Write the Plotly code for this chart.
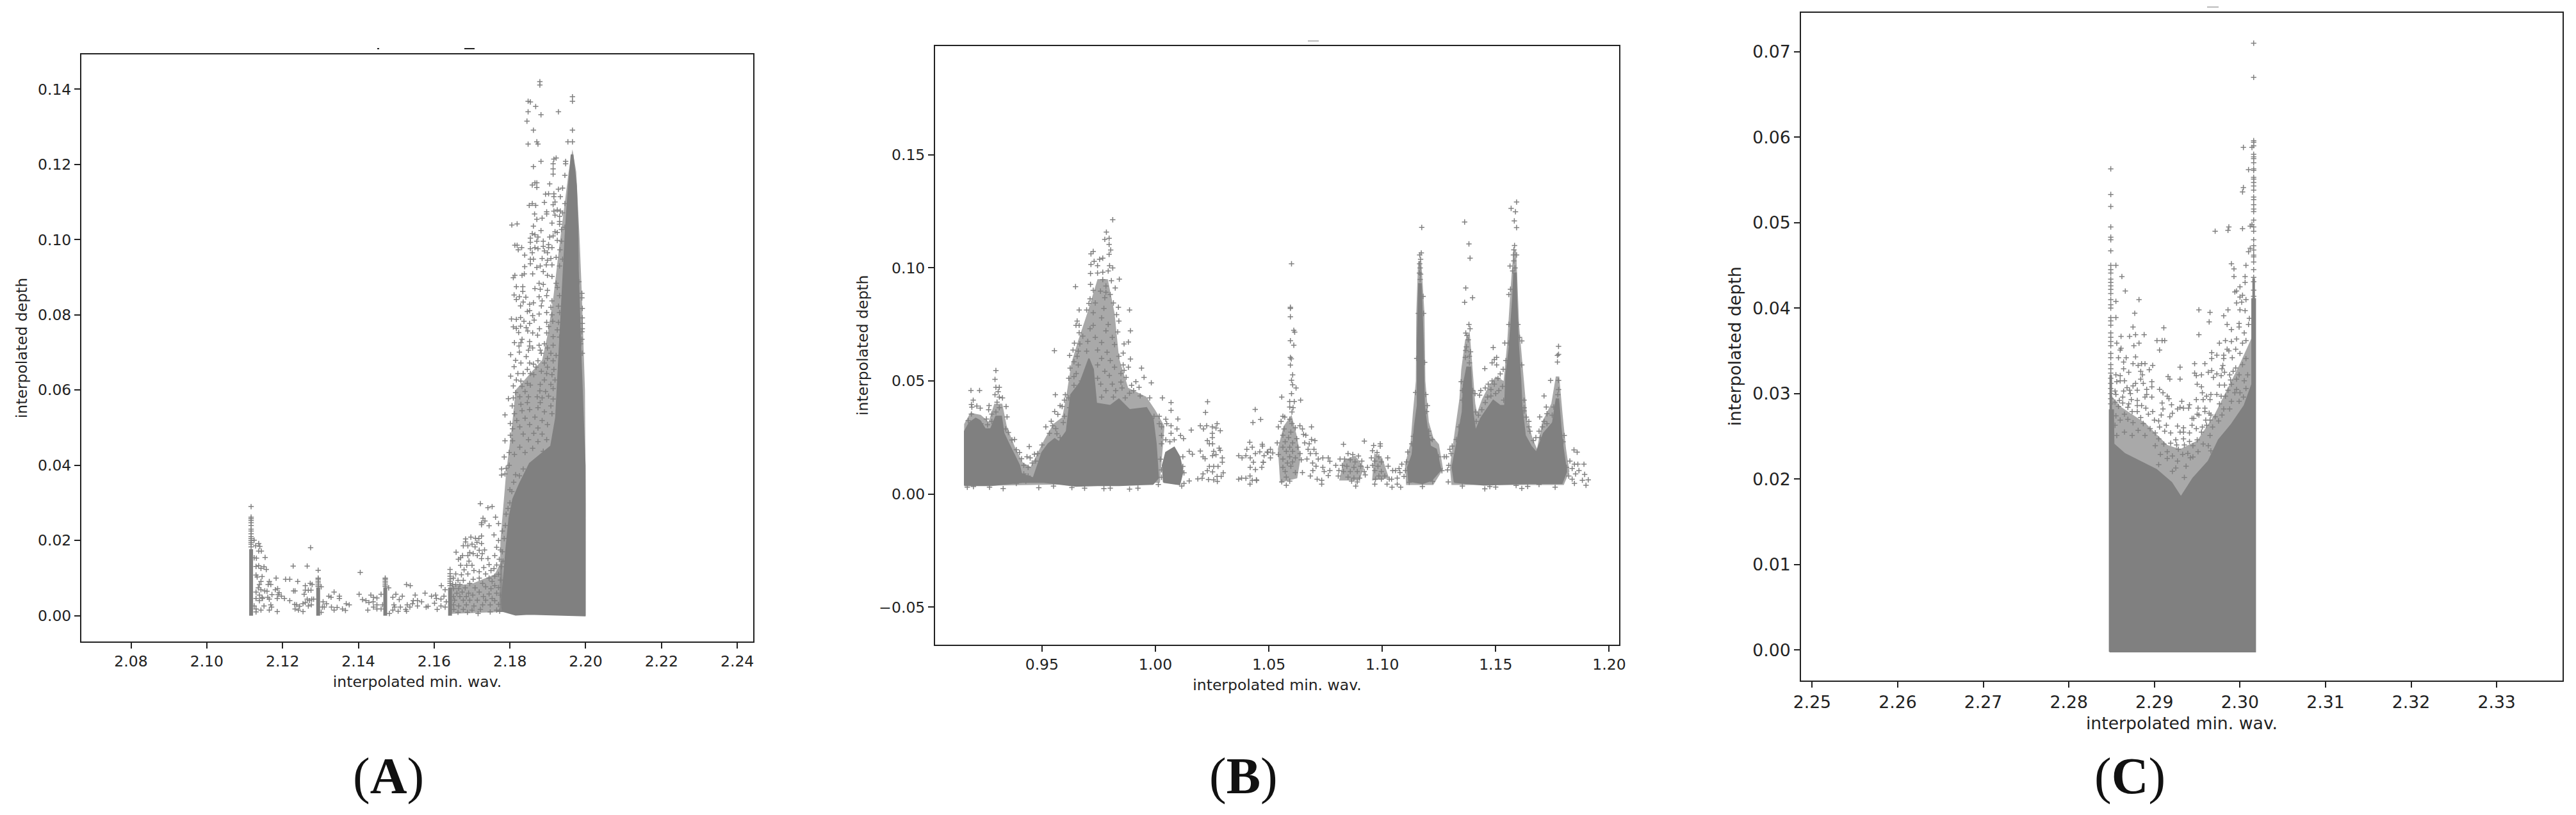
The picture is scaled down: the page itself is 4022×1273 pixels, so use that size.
"""Three depth vs. minimum-wavelength scatter panels (A, B, C).

The solid part of each cloud is a filled outline, with a lighter fringe outline
behind it. The loose points around them are read one by one off the picture.
"""

import plotly.graph_objects as go

W, H = 4022, 1273
BODY = 8            # browser default page margin around the figure
LEFT = 70           # left margin, keeps the y titles from pushing the plot area
RIGHT = 10
GREY = "#808080"
FRINGE = "rgba(128,128,128,0.68)"
INK = "#222222"

# ── panel A ──────────────────────────────────────────────────────────────────

A_XTICKS = [2.08, 2.10, 2.12, 2.14, 2.16, 2.18, 2.20, 2.22, 2.24]
A_YTICKS = [0.00, 0.02, 0.04, 0.06, 0.08, 0.10, 0.12, 0.14]
A_MASS = [(2.1780,.0012),(2.1778,.004),(2.1785,.012),(2.1790,.018),(2.1798,.026),(2.1808,.031),(2.1825,.035),(2.1852,.0405),(2.1880,.0428),(2.1908,.0451),(2.1921,.0526),(2.1930,.0696),(2.1941,.0922),(2.1947,.103),(2.1955,.1143),(2.1962,.1225),(2.1966,.1225),(2.1975,.1143),(2.1979,.103),(2.1980,.0922),(2.1987,.0696),(2.1994,.0526),(2.1998,.04),(2.1998,0.0),(2.1900,.0002),(2.1850,.0004),(2.1815,.0002),(2.1800,.0006)]
A_FRINGE = [(2.1772,.001),(2.1775,.020),(2.1790,.038),(2.1805,.050),(2.1815,.060),(2.1850,.064),(2.1885,.068),(2.1900,.075),(2.1915,.085),(2.1930,.098),(2.1945,.110),(2.1955,.118),(2.1965,.124),(2.1975,.118),(2.1984,.10),(2.1990,.085),(2.1998,.06),(2.2,.03),(2.2,0)]
A_BASE = [(2.1645,.0005),(2.1645,.008),(2.170,.0085),(2.176,.011),(2.178,.015),(2.178,.001)]
A_SPIKES = [(2.1117,.0177),(2.1294,.0075),(2.1471,.0075),(2.1642,.0075)]
A_SPIKE_TOPS = {
    2.1117: [.0290,.0262,.0258,.0253,.0247,.0240,.0230,.0225,.0218,.0210,.0205,.0200,.0195,.0190,.0183],
    2.1294: [.0121,.0100,.0097,.0092,.0087,.0082,.0078],
    2.1471: [.0100,.0097,.0092,.0087,.0082,.0078],
    2.1642: [.0123,.0112,.0105,.0098,.0092,.0086,.0080],
}
A_LOW = [(2.1125,.0201),(2.1129,.0186),(2.1137,.0192),(2.1140,.0184),(2.1137,.0172),(2.1144,.0172),(2.1154,.0155),(2.1125,.0154),(2.1131,.0153),(2.1130,.0131),(2.1137,.0133),(2.1143,.0126),(2.1151,.0130),(2.1157,.0123),(2.1130,.0108),(2.1133,.0103),(2.1146,.0104),(2.1143,.0091),(2.1139,.0083),(2.1165,.0091),(2.1162,.0083),(2.1169,.0083),(2.1183,.0100),(2.1208,.0097),(2.1219,.0097),(2.1240,.0091),(2.1228,.0132),(2.1265,.0132),(2.1274,.0181),(2.1260,.0080),(2.1273,.0086),(2.1278,.0083),(2.1260,.0068),(2.1268,.0068),(2.1275,.0068),(2.1233,.0066),(2.1229,.0066),(2.1257,.0057),(2.1136,.0074),(2.1143,.0069),(2.1153,.0066),(2.1159,.0065),(2.1130,.0063),(2.1139,.0055),(2.1147,.0046),(2.1130,.0046),(2.1139,.0040),(2.1146,.0049),(2.1161,.0049),(2.1165,.0044),(2.1172,.0056),(2.1181,.0069),(2.1187,.0072),(2.1191,.0061),(2.1197,.0052),(2.1188,.0056),(2.1186,.0046),(2.1205,.0046),(2.1219,.0040),(2.1232,.0030),(2.1237,.0029),(2.1245,.0025),(2.1254,.0032),(2.1260,.0035),(2.1265,.0044),(2.1271,.0040),(2.1277,.0044),(2.1282,.0044),(2.1276,.0029),(2.1268,.0026),(2.1233,.0018),(2.1242,.0015),(2.1254,.0011),(2.1169,.0029),(2.1171,.0023),(2.1151,.0026),(2.1130,.0018),(2.1130,.0010),(2.1143,.0015),(2.1165,.0015),(2.1186,.0011),(2.1125,.0026),
    (2.1302,.0077),(2.1307,.0037),(2.1305,.0023),(2.1316,.0032),(2.1322,.0052),(2.1328,.0049),(2.1336,.0063),(2.1350,.0052),(2.1350,.0046),(2.1302,.0009),(2.1310,.0023),(2.1329,.0023),(2.1336,.0015),(2.1344,.0022),(2.1358,.0018),(2.1366,.0014),(2.1368,.0032),(2.1376,.0029),
    (2.1405,.0115),(2.1402,.0057),(2.1411,.0043),(2.1420,.0040),(2.1428,.0035),(2.1433,.0055),(2.1440,.0049),(2.1449,.0047),(2.1460,.0057),(2.1439,.0037),(2.1425,.0015),(2.1440,.0023),(2.1449,.0018),(2.1460,.0018),(2.1449,.0029),(2.1464,.0029),
    (2.1480,.0074),(2.1491,.0049),(2.1499,.0057),(2.1516,.0052),(2.1508,.0043),(2.1494,.0029),(2.1496,.0023),(2.1511,.0023),(2.1491,.0015),(2.1505,.0012),(2.1482,.0006),(2.1527,.0083),(2.1537,.0080),(2.1529,.0029),(2.1525,.0017),(2.1527,.0012),(2.1536,.0023),(2.1543,.0032),(2.1545,.0040),(2.1550,.0055),(2.1556,.0040),(2.1567,.0037),(2.1556,.0026),(2.1576,.0060),(2.1579,.0023),(2.1584,.0025),(2.1593,.0052),(2.1604,.0055),(2.1606,.0046),(2.1601,.0033),(2.1608,.0017),(2.1618,.0044),(2.1626,.0052),(2.1632,.0037),(2.1618,.0026),(2.1629,.0023)]
A_RISE = [(2.1722,.0298),(2.1742,.0287),(2.1753,.0290),(2.1729,.0259),(2.1734,.0252),(2.1725,.0247),(2.1725,.0242),(2.1745,.0239),(2.1697,.0209),(2.1709,.0206),(2.1718,.0205),(2.1725,.0212),(2.1683,.0204),(2.1683,.0196),(2.1713,.0195),(2.1725,.0192),(2.1677,.0186),(2.1689,.0186),(2.1700,.0190),(2.1708,.0183),(2.1658,.0169),(2.1694,.0168),(2.1703,.0165),(2.1719,.0174),(2.1733,.0175),(2.1727,.0165),(2.1670,.0154),(2.1675,.0160),(2.1689,.0160),(2.1714,.0160),(2.1664,.0150),(2.1692,.0145),(2.1725,.0152),(2.1742,.0152),(2.1670,.0134),(2.1686,.0134),(2.1700,.0134),(2.1731,.0128),(2.1745,.0136),(2.1679,.0122),(2.1705,.0120),(2.1719,.0117),(2.1657,.0111),(2.1672,.0109),(2.1689,.0111),(2.1736,.0111),(2.1750,.0120),(2.1651,.0100),(2.1663,.0094),(2.1677,.0094),(2.1703,.0097),(2.1719,.0100),(2.1745,.0100),(2.1657,.0083),(2.1649,.0083),(2.1668,.0083),(2.1694,.0086),(2.1728,.0086),(2.1753,.0091),(2.1619,.0080),(2.1629,.0069),(2.1651,.0072),(2.1665,.0072),(2.1682,.0074),(2.1708,.0074),(2.1736,.0077),(2.1750,.0072),(2.1660,.0060),(2.1674,.0063),(2.1691,.0060),(2.1719,.0063),(2.1651,.0051),(2.1668,.0051),(2.1685,.0051),(2.1702,.0055),(2.1730,.0051),(2.1745,.0058),(2.1654,.0041),(2.1677,.0041),(2.1694,.0041),(2.1714,.0041),(2.1736,.0041),(2.1753,.0046),(2.1651,.0029),(2.1665,.0026),(2.1685,.0029),(2.1705,.0026),(2.1728,.0029),(2.1748,.0029),(2.1663,.0009),(2.1688,.0009),(2.1716,.0006),(2.1748,.0010),(2.1652,.0017),(2.1677,.0017),(2.1700,.0015),(2.1722,.0017),
    (2.1762,.0262),(2.1770,.0245),(2.1758,.0215),(2.1770,.0200),(2.1765,.0182),(2.1775,.0175),(2.1760,.0160),(2.1772,.0150),(2.1780,.0225),(2.1785,.0205),(2.1765,.0135),(2.1778,.0130),(2.1760,.0105),(2.1770,.0110),(2.1775,.0095),(2.1760,.0080),(2.1770,.0075),(2.1765,.0060),(2.1775,.0055),(2.1760,.0040),(2.1770,.0030),(2.1765,.0015),(2.1773,.0012),(2.1758,.0125),(2.1782,.0145),(2.1780,.0170),(2.1790,.0270),(2.1795,.0285),(2.1800,.0300),(2.1788,.0240),(2.1805,.0330),(2.1815,.0375),(2.1810,.0355),(2.1825,.0372),(2.1835,.0390),(2.1800,.0335)]
A_UPPER = [(2.1879,.1420),(2.1879,.1411),(2.1965,.1380),(2.1965,.1368),(2.1848,.1368),(2.1854,.1366),(2.1868,.1354),(2.1848,.1340),(2.1928,.1340),(2.1882,.1332),(2.1845,.1315),(2.1862,.1291),(2.1965,.1291),(2.1953,.1260),(2.1965,.1260),(2.1848,.1254),(2.1871,.1260),(2.1874,.1254),(2.1882,.1208),(2.1922,.1217),(2.1916,.1214),(2.1914,.1202),(2.1947,.1208),(2.1947,.1202),(2.1862,.1194),(2.1914,.1188),(2.1914,.1174),(2.1945,.1171),(2.1859,.1145),(2.1866,.1151),(2.1871,.1151),(2.1871,.1139),(2.1905,.1148),(2.1928,.1134),(2.1939,.1137),(2.1894,.1121),(2.1902,.1122),(2.1916,.1122),(2.1916,.1114),(2.1933,.1114),(2.1891,.1099),(2.1919,.1100),(2.1914,.1093),(2.1945,.1096),(2.1851,.1091),(2.1859,.1096),(2.1868,.1091),(2.1916,.1076),(2.1925,.1079),(2.1933,.1076),(2.1897,.1074),(2.1897,.1068),(2.1865,.1068),(2.1919,.1065),(2.1939,.1071),(2.1931,.1062),(2.1871,.1054),(2.1885,.1057),(2.1911,.1044),(2.1931,.1048),(2.1931,.1041),(2.1805,.1039),(2.1819,.1042),(2.1862,.1036),(2.1882,.1024),(2.1945,.1033),(2.1936,.1027),(2.1925,.1019),(2.1919,.1021),(2.1905,.1007),(2.1914,.1010),(2.1859,.1016),(2.1866,.1013),(2.1874,.1007),(2.1854,.1004),(2.1854,.0993),(2.1871,.0996),(2.1888,.0996),(2.1925,.0998),(2.1936,.0996),(2.1902,.0987),(2.1813,.0985),(2.1819,.0985),(2.1831,.0979),(2.1822,.0973),(2.1854,.0976),(2.1866,.0979),(2.1874,.0976),(2.1888,.0982),(2.1902,.0979),(2.1911,.0979),(2.1932,.0973),(2.1891,.0970),(2.1899,.0965),(2.1859,.0965),(2.1839,.0959),(2.1854,.0948),(2.1862,.0948),(2.1885,.0950),(2.1908,.0950),(2.1922,.0953),(2.1939,.0948),(2.1899,.0945),(2.1854,.0936),(2.1839,.0928),(2.1871,.0926),(2.1880,.0930),(2.1896,.0933),(2.1911,.0933),(2.1931,.0930)]
A_FLANK = [(2.1990,.0857),(2.1990,.0845),(2.1982,.0888),(2.1991,.0817),(2.1991,.0792),(2.1991,.0777),(2.1991,.0763),(2.1990,.0755),(2.1990,.0735),(2.1991,.0698),(2.1987,.0723),
    (2.1809,.0899),(2.1813,.0905),(2.1832,.0905),(2.1838,.0909),(2.1860,.0909),(2.1888,.0915),(2.1899,.0905),(2.1911,.0902),(2.1817,.0875),(2.1834,.0875),(2.1877,.0884),(2.1888,.0881),(2.1866,.0870),(2.1880,.0868),(2.1899,.0865),(2.1922,.0884),(2.1925,.0873),(2.1811,.0853),(2.1825,.0848),(2.1834,.0862),(2.1842,.0847),(2.1817,.0841),(2.1877,.0848),(2.1897,.0851),(2.1931,.0851),(2.1835,.0834),(2.1852,.0828),(2.1862,.0832),(2.1885,.0837),(2.1911,.0837),(2.1828,.0824),(2.1883,.0824),(2.1908,.0820),(2.1928,.0823),(2.1846,.0809),(2.1852,.0811),(2.1877,.0802),(2.1860,.0798),(2.1897,.0806),(2.1911,.0800),(2.1931,.0806),(2.1804,.0789),(2.1817,.0788),(2.1828,.0793),(2.1837,.0783),(2.1852,.0777),(2.1864,.0786),(2.1897,.0780),(2.1913,.0783),(2.1928,.0780),(2.1902,.0769),(2.1809,.0768),(2.1817,.0764),(2.1828,.0770),(2.1843,.0766),(2.1878,.0763),(2.1925,.0760),(2.1823,.0753),(2.1847,.0757),(2.1860,.0752),(2.1873,.0746),(2.1897,.0752),(2.1914,.0742),(2.1931,.0741),(2.1812,.0726),(2.1829,.0726),(2.1832,.0735),(2.1824,.0717),(2.1852,.0729),(2.1852,.0717),(2.1877,.0719),(2.1891,.0723),(2.1914,.0719),(2.1825,.0701),(2.1849,.0706),(2.1860,.0712),(2.1880,.0706),(2.1899,.0712),(2.1802,.0694),(2.1908,.0698),(2.1922,.0692),(2.1883,.0698),(2.1815,.0679),(2.1843,.0689),(2.1829,.0672),(2.1852,.0672),(2.1874,.0678),(2.1899,.0684),(2.1914,.0678),(2.1811,.0662),(2.1862,.0669),(2.1891,.0672),(2.1846,.0655),(2.1869,.0661),(2.1899,.0661),(2.1916,.0655),(2.1821,.0644),(2.1802,.0637),(2.1835,.0644),(2.1854,.0644),(2.1883,.0650),(2.1863,.0641),(2.1897,.0644),(2.1911,.0641),(2.1817,.0627),(2.1829,.0624),(2.1846,.0618),(2.1891,.0627),(2.1880,.0615),(2.1809,.0611),(2.1832,.0610),(2.1854,.0613),(2.1908,.0615),(2.1919,.0627),(2.1815,.0593),(2.1840,.0596),(2.1879,.0598),(2.1894,.0596),(2.1914,.0604),(2.1796,.0577),(2.1809,.0579),(2.1826,.0582),(2.1849,.0582),(2.1872,.0582),(2.1885,.0579),(2.1902,.0584),(2.1914,.0576),(2.1806,.0558),(2.1829,.0562),(2.1846,.0567),(2.1880,.0567),(2.1908,.0558),(2.1787,.0534),(2.1812,.0537),(2.1832,.0545),(2.1852,.0548),(2.1874,.0553),(2.1891,.0542),(2.1911,.0537),(2.1801,.0511),(2.1818,.0519),(2.1840,.0525),(2.1866,.0528),(2.1885,.0519),(2.1807,.0497),(2.1826,.0502),(2.1852,.0508),(2.1874,.0499),(2.1899,.0508),(2.1801,.0480),(2.1835,.0483),(2.1863,.0485),(2.1885,.0483),(2.1787,.0465),(2.1807,.0465),(2.1849,.0468),(2.1874,.0463),(2.1897,.0468),(2.1798,.0434),(2.1826,.0448),(2.1860,.0445),(2.1888,.0437),(2.1785,.0422),(2.1812,.0429),(2.1840,.0434),(2.1778,.0390),(2.1790,.0392),(2.1778,.0374),(2.1787,.0377),(2.1798,.0400)]

# ── panel B ──────────────────────────────────────────────────────────────────

B_XTICKS = [0.95, 1.00, 1.05, 1.10, 1.15, 1.20]
B_YTICKS = [-0.05, 0.00, 0.05, 0.10, 0.15]
B_MASS_LEFT = [(.9159,.0038),(.9159,.0278),(.9180,.0316),(.9208,.0335),(.9227,.0325),(.9250,.0288),(.9274,.0288),(.9297,.0344),(.9321,.0344),(.9332,.0269),(.9354,.0222),(.9377,.0174),(.9401,.0127),(.9410,.0089),(.9462,.0071),(.9481,.0127),(.9500,.0184),(.9528,.0222),(.9556,.0245),(.9575,.0231),(.9608,.0278),(.9627,.0439),(.9669,.0495),(.9707,.0599),(.9726,.0552),(.9740,.0401),(.9801,.0391),(.9839,.0420),(.9886,.0373),(.9961,.0382),(.9989,.0335),(1.0003,.0222),(1.0013,.0071),(.9989,.0044),(.9839,.0038),(.9745,.0038),(.9650,.0035),(.9509,.0052),(.9415,.0052),(.9274,.0038)]
B_MASS_BLOB = [(1.0036,.0052),(1.0031,.0127),(1.0046,.0184),(1.0083,.0207),(1.0107,.0165),(1.0121,.0099),(1.0107,.0042)]
B_MASS_PEAK = [(1.1117,.0057),(1.1112,.0118),(1.1132,.0175),(1.1142,.0297),(1.1155,.0392),(1.1155,.0675),(1.1161,.0930),(1.1171,.0930),(1.1180,.0675),(1.1185,.0392),(1.1197,.0297),(1.1212,.0212),(1.1238,.0198),(1.1258,.0107),(1.1218,.0061),(1.1177,.0047)]
B_MASS_RIGHT = [(1.1318,.0052),(1.1308,.0118),(1.1328,.0222),(1.1353,.0363),(1.1358,.0486),(1.1373,.0561),(1.1389,.0561),(1.1394,.0439),(1.1399,.0363),(1.1411,.0278),(1.1434,.0335),(1.1459,.0372),(1.1489,.0415),(1.1520,.0391),(1.1540,.0391),(1.1545,.0524),(1.1560,.0646),(1.1575,.0863),(1.1580,.0977),(1.1590,.0977),(1.1592,.0863),(1.1600,.0656),(1.1610,.0505),(1.1615,.0391),(1.1630,.0259),(1.1656,.0212),(1.1679,.0184),(1.1711,.0269),(1.1751,.0316),(1.1767,.0420),(1.1777,.0420),(1.1787,.0297),(1.1797,.0203),(1.1812,.0099),(1.1792,.0047),(1.1651,.0047),(1.1550,.0044),(1.1449,.0040)]
B_FRINGE_LEFT = [(.9157,.0035),(.9157,.031),(.9185,.036),(.9230,.035),(.9265,.032),(.9290,.040),(.9325,.040),(.9345,.030),(.9380,.021),(.9415,.014),(.9450,.012),(.9480,.018),(.9510,.024),(.9550,.031),(.9590,.034),(.9610,.045),(.9630,.058),(.9660,.068),(.9700,.080),(.9745,.095),(.9790,.095),(.9820,.080),(.9840,.060),(.9880,.047),(.9960,.043),(1.0000,.037),(1.0040,.030),(1.0020,.005)]
B_FRINGE_PEAK = [(1.1105,.004),(1.1100,.013),(1.1125,.023),(1.1135,.036),(1.1148,.05),(1.1150,.08),(1.1158,.103),(1.1172,.103),(1.1186,.08),(1.1190,.05),(1.1205,.032),(1.1225,.025),(1.1250,.022),(1.1268,.011),(1.1225,.004)]
B_FRINGE_RIGHT = [(1.1305,.004),(1.1298,.012),(1.1320,.028),(1.1340,.042),(1.1348,.055),(1.1365,.068),(1.1385,.072),(1.1398,.055),(1.1410,.040),(1.1418,.036),(1.1440,.042),(1.1470,.048),(1.1500,.052),(1.1535,.050),(1.1550,.066),(1.1565,.090),(1.1578,.108),(1.1590,.108),(1.1603,.075),(1.1620,.055),(1.1640,.032),(1.1665,.024),(1.1682,.020),(1.1705,.032),(1.1745,.040),(1.1765,.052),(1.1780,.052),(1.1795,.035),(1.1810,.020),(1.1825,.010),(1.1800,.004)]
B_FRINGE_106 = [(1.0550,.005),(1.0540,.020),(1.0565,.030),(1.0600,.035),(1.0625,.025),(1.0640,.016),(1.0625,.007)]
B_FRINGE_109 = [(1.081,.006),(1.083,.015),(1.088,.017),(1.092,.012),(1.090,.006)]
B_FRINGE_110 = [(1.0955,.006),(1.0965,.018),(1.100,.016),(1.103,.007)]
B_LEFT = [(.9812,.1213),(.9784,.1158),(.9796,.1131),(.9777,.1126),(.9796,.1104),(.9803,.1079),(.9796,.1060),(.9726,.1073),(.9716,.1062),(.9754,.1038),(.9768,.1043),(.9730,.1029),(.9716,.1015),(.9745,.1010),(.9798,.1010),(.9812,.1000),(.9714,.0975),(.9745,.0977),(.9768,.0981),(.9792,.0986),(.9841,.0950),(.9768,.0948),(.9806,.0943),(.9648,.0917),(.9714,.0927),(.9782,.0920),(.9823,.0911),(.9726,.0901),(.9758,.0897),(.9782,.0892),(.9801,.0882),(.9712,.0863),(.9777,.0868),(.9735,.0845),(.9707,.0843),(.9815,.0845),(.9664,.0814),(.9886,.0814),(.9697,.0814),(.9726,.0802),(.9773,.0821),(.9837,.0826),(.9655,.0765),(.9664,.0746),(.9650,.0746),(.9726,.0746),(.9763,.0779),(.9829,.0793),(.9839,.0765),(.9792,.0750),(.9712,.0731),(.9782,.0722),(.9834,.0717),(.9890,.0722),(.9664,.0713),(.9680,.0698),(.9735,.0693),(.9810,.0693),(.9702,.0675),(.9643,.0667),(.9667,.0664),(.9763,.0670),(.9881,.0672),(.9862,.0664),(.9820,.0661),(.9555,.0634),(.9637,.0637),(.9660,.0632),(.9697,.0632),(.9745,.0637),(.9787,.0627),(.9858,.0623),(.9622,.0613),(.9655,.0609),(.9839,.0609),(.9890,.0597),(.9641,.0585),(.9763,.0600),(.9801,.0590),(.9858,.0571),(.9624,.0557),(.9660,.0571),(.9745,.0571),(.9820,.0561),(.9881,.0561),(.9939,.0557),(.9651,.0533),(.9777,.0543),(.9848,.0533),(.9862,.0547),(.9618,.0512),(.9641,.0519),(.9674,.0500),(.9745,.0512),(.9797,.0524),(.9871,.0516),(.9950,.0516),(.9914,.0497),(.9982,.0492),(.9759,.0486),(.9810,.0486),(.9848,.0495),(.9895,.0481),(.9928,.0472),(.9641,.0481),(.9782,.0457),(.9825,.0457),(.9853,.0469),(.9904,.0457),(.9886,.0446),(.9763,.0429),(.9815,.0429),(.9933,.0434),(.9975,.0425),(.9867,.0425),(1.0031,.0425),(1.0069,.0405),(1.0069,.0370),
    (.9187,.0458),(.9225,.0458),(.9297,.0546),(.9293,.0507),(.9297,.0472),(.9312,.0472),(.9307,.0453),(.9293,.0439),(.9312,.0429),(.9326,.0425),(.9302,.0406),(.9197,.0415),(.9189,.0396),(.9191,.0384),(.9213,.0389),(.9228,.0380),(.9267,.0391),(.9342,.0387),(.9265,.0373),(.9312,.0382),(.9297,.0363),(.9189,.0354),(.9279,.0354),(.9346,.0341),(.9175,.0325),(.9255,.0332),(.9231,.0311),(.9279,.0321),(.9260,.0306),(.9340,.0288),(.9352,.0272),(.9236,.0292),(.9265,.0267),(.9368,.0239),(.9379,.0241),(.9387,.0196),(.9401,.0184),(.9410,.0156),(.9444,.0210),(.9467,.0176),(.9434,.0165),(.9448,.0160),(.9420,.0127),(.9439,.0118),(.9457,.0137),(.9472,.0146),(.9420,.0089),(.9439,.0080),(.9429,.0057),(.9486,.0028),(.9551,.0035),(.9329,.0024),(.9198,.0033),(.9171,.0030),(.9269,.0030),(.9387,.0047),(.9517,.0297),(.9541,.0322),(.9556,.0365),(.9570,.0352),(.9547,.0302),(.9561,.0289),(.9580,.0391),(.9559,.0439),(.9603,.0439),(.9599,.0415),(.9618,.0425),(.9589,.0387),(.9622,.0382),(.9599,.0344),(.9594,.0316),(.9533,.0269),(.9566,.0267),(.9580,.0250),(.9500,.0217),(.9481,.0179),
    (.9773,.0024),(.9886,.0022),(.9923,.0026),(.9688,.0026),(.9632,.0029),(.9801,.0026),(1.0013,.0042),
    (1.0017,.0344),(.9994,.0344),(1.0046,.0331),(1.0099,.0332),(1.0017,.0311),(1.0050,.0311),(1.0027,.0297),(1.0069,.0302),(1.0095,.0288),(1.0027,.0259),(1.0069,.0269),(1.0111,.0259),(1.0124,.0245),(1.0046,.0240),(1.0083,.0240),(1.0027,.0222),(1.0064,.0231),(1.0158,.0283),(1.0149,.0189),(1.0163,.0176),(1.0149,.0058),(1.0126,.0047),(1.0116,.0035),(1.0126,.0094),(1.0121,.0165),(1.0121,.0122),(1.0027,.0107),(1.0022,.0154),(1.0027,.0074)]
B_MIDDLE = [(1.0230,.0408),(1.0221,.0361),(1.0198,.0302),(1.0212,.0288),(1.0226,.0302),(1.0251,.0297),(1.0267,.0292),(1.0272,.0311),(1.0286,.0280),(1.0251,.0269),(1.0251,.0250),(1.0229,.0236),(1.0238,.0222),(1.0252,.0222),(1.0281,.0203),(1.0286,.0193),(1.0198,.0190),(1.0257,.0189),(1.0252,.0170),(1.0267,.0174),(1.0210,.0165),(1.0219,.0156),(1.0295,.0160),(1.0295,.0141),(1.0238,.0122),(1.0257,.0122),(1.0276,.0122),(1.0229,.0103),(1.0299,.0094),(1.0252,.0098),(1.0210,.0089),(1.0272,.0078),(1.0290,.0078),(1.0206,.0070),(1.0187,.0067),(1.0234,.0064),(1.0257,.0063),(1.0273,.0056),
    (1.0440,.0374),(1.0464,.0330),(1.0430,.0316),(1.0416,.0229),(1.0472,.0212),(1.0427,.0207),(1.0403,.0198),(1.0493,.0186),(1.0441,.0179),(1.0460,.0187),(1.0367,.0170),(1.0382,.0160),(1.0399,.0170),(1.0418,.0160),(1.0479,.0170),(1.0432,.0141),(1.0475,.0141),(1.0418,.0118),(1.0441,.0108),(1.0469,.0118),(1.0367,.0066),(1.0399,.0070),(1.0417,.0080),(1.0427,.0061),(1.0417,.0044),(1.0445,.0063),(1.0380,.0071),
    (1.0600,.1018),(1.0595,.0821),(1.0595,.0826),(1.0595,.0784),(1.0610,.0724),(1.0614,.0716),(1.0595,.0678),(1.0610,.0658),(1.0595,.0604),(1.0599,.0598),(1.0595,.0570),(1.0605,.0527),(1.0600,.0503),(1.0605,.0483),(1.0620,.0469),(1.0600,.0444),(1.0557,.0429),(1.0640,.0415),(1.0592,.0409),(1.0612,.0409),(1.0592,.0385),(1.0607,.0382),(1.0602,.0363),(1.0562,.0344),(1.0570,.0340),(1.0592,.0331),(1.0554,.0321),(1.0602,.0312),(1.0542,.0297),(1.0637,.0302),(1.0688,.0297),(1.0567,.0288),(1.0617,.0293),(1.0597,.0274),(1.0648,.0288),(1.0562,.0260),(1.0653,.0264),(1.0663,.0260),(1.0587,.0250),(1.0623,.0245),(1.0688,.0241),(1.0703,.0236),(1.0537,.0226),(1.0572,.0231),(1.0605,.0226),(1.0658,.0226),(1.0678,.0222),(1.0562,.0207),(1.0592,.0207),(1.0628,.0207),(1.0673,.0198),(1.0699,.0198),(1.0577,.0189),(1.0605,.0189),(1.0542,.0175),(1.0638,.0179),(1.0683,.0179),(1.0708,.0179),(1.0562,.0155),(1.0592,.0165),(1.0617,.0160),(1.0668,.0155),(1.0718,.0155),(1.0738,.0160),(1.0762,.0160),(1.0582,.0137),(1.0605,.0142),(1.0643,.0151),(1.0693,.0137),(1.0769,.0145),(1.0562,.0118),(1.0597,.0123),(1.0708,.0123),(1.0738,.0118),(1.0572,.0100),(1.0617,.0095),(1.0648,.0095),(1.0694,.0104),(1.0744,.0100),(1.0769,.0104),(1.0683,.0080),(1.0577,.0075),(1.0762,.0082),(1.0713,.0066),(1.0733,.0061),(1.0557,.0054),(1.0592,.0057),(1.0577,.0039),(1.0733,.0044),
    (1.0471,.0220),(1.0507,.0198),(1.0496,.0184),(1.0517,.0182),(1.0507,.0160),(1.0476,.0140),(1.0446,.0060),
    (1.0829,.0220),(1.0921,.0234),(1.0795,.0127),(1.0814,.0155),(1.0834,.0155),(1.0849,.0179),(1.0870,.0175),(1.0895,.0168),(1.0859,.0151),(1.0880,.0142),(1.0910,.0146),(1.0824,.0127),(1.0844,.0123),(1.0875,.0118),(1.0905,.0123),(1.0935,.0118),(1.0809,.0104),(1.0829,.0100),(1.0859,.0100),(1.0890,.0100),(1.0920,.0100),(1.0806,.0080),(1.0849,.0075),(1.0875,.0071),(1.0900,.0071),(1.0925,.0085),(1.0883,.0035),(1.0865,.0057),(1.0890,.0054),
    (1.0962,.0215),(1.0991,.0222),(1.0991,.0212),(1.0957,.0192),(1.0977,.0184),(1.0985,.0165),(1.0952,.0160),(1.1024,.0160),(1.0967,.0146),(1.0996,.0142),(1.1026,.0123),(1.0957,.0127),(1.0981,.0123),(1.0967,.0104),(1.0996,.0100),(1.1046,.0104),(1.1058,.0104),(1.1074,.0113),(1.1086,.0132),(1.0985,.0080),(1.1011,.0080),(1.1031,.0066),(1.0970,.0066),(1.0996,.0066),(1.1041,.0066),(1.1066,.0071),(1.1078,.0095),(1.1096,.0078),(1.1066,.0044),(1.0967,.0044),(1.1021,.0044),(1.1043,.0030),(1.1081,.0030)]
B_RIGHT = [(1.1174,.1179),(1.1172,.1066),(1.1165,.1057),(1.1169,.1038),(1.1165,.1018),(1.1167,.1000),(1.1164,.0977),(1.1169,.0972),(1.1167,.0949),(1.1180,.0874),(1.1159,.0799),(1.1182,.0799),(1.1187,.0582),(1.1152,.0600),(1.1147,.0449),(1.1192,.0440),(1.1199,.0391),(1.1195,.0365),(1.1137,.0255),(1.1130,.0222),(1.1112,.0186),(1.1205,.0278),(1.1205,.0259),(1.1220,.0241),(1.1210,.0236),(1.1195,.0236),(1.1107,.0142),(1.1102,.0104),(1.1119,.0052),(1.1177,.0033),(1.1222,.0056),(1.1248,.0165),(1.1263,.0103),(1.1273,.0165),(1.1283,.0165),(1.1298,.0198),(1.1303,.0179),(1.1293,.0127),(1.1288,.0107),(1.1291,.0054),
    (1.1363,.1203),(1.1382,.1106),(1.1387,.1043),(1.1368,.0911),(1.1398,.0868),(1.1363,.0848),(1.1382,.0750),(1.1387,.0731),(1.1368,.0712),(1.1373,.0701),(1.1379,.0682),(1.1371,.0651),(1.1368,.0635),(1.1389,.0629),(1.1366,.0604),(1.1384,.0609),(1.1384,.0580),(1.1348,.0497),(1.1353,.0458),(1.1399,.0458),(1.1409,.0444),(1.1353,.0415),(1.1411,.0363),(1.1414,.0321),(1.1338,.0297),(1.1326,.0241),(1.1308,.0212),(1.1452,.0555),(1.1489,.0648),(1.1504,.0604),(1.1494,.0595),(1.1484,.0580),(1.1504,.0571),(1.1533,.0552),(1.1520,.0531),(1.1510,.0512),(1.1484,.0500),(1.1467,.0486),(1.1494,.0486),(1.1530,.0476),(1.1454,.0469),(1.1479,.0462),(1.1434,.0458),(1.1514,.0458),(1.1464,.0429),(1.1500,.0444),(1.1429,.0437),(1.1454,.0405),(1.1479,.0434),(1.1535,.0415),(1.1439,.0373),(1.1424,.0349),
    (1.1592,.1291),(1.1568,.1263),(1.1587,.1248),(1.1582,.1208),(1.1592,.1178),(1.1583,.1099),(1.1580,.1080),(1.1578,.1057),(1.1592,.1057),(1.1580,.1031),(1.1563,.1008),(1.1585,.1000),(1.1575,.0986),(1.1558,.0882),(1.1565,.0906),(1.1558,.0750),(1.1598,.0750),(1.1540,.0668),(1.1558,.0668),(1.1615,.0677),(1.1605,.0693),(1.1615,.0571),(1.1545,.0590),(1.1625,.0415),(1.1625,.0382),(1.1625,.0368),(1.1635,.0340),(1.1646,.0321),(1.1647,.0297),(1.1651,.0278),(1.1677,.0250),(1.1666,.0236),
    (1.1777,.0653),(1.1777,.0618),(1.1772,.0613),(1.1772,.0584),(1.1742,.0502),(1.1777,.0502),(1.1777,.0462),(1.1713,.0434),(1.1774,.0439),(1.1723,.0385),(1.1756,.0385),(1.1726,.0355),(1.1694,.0341),(1.1749,.0349),(1.1713,.0321),(1.1726,.0311),(1.1691,.0278),(1.1706,.0297),(1.1696,.0250),(1.1802,.0259),(1.1797,.0231),
    (1.1845,.0195),(1.1859,.0185),(1.1827,.0146),(1.1847,.0132),(1.1862,.0132),(1.1889,.0132),(1.1837,.0113),(1.1867,.0104),(1.1852,.0089),(1.1892,.0087),(1.1837,.0066),(1.1882,.0061),(1.1908,.0063),(1.1898,.0039),(1.1847,.0047),(1.1812,.0118),(1.1822,.0080),
    (1.1452,.0023),(1.1474,.0033),(1.1500,.0031),(1.1615,.0025),(1.1641,.0034),(1.1762,.0030),(1.1353,.0035),(1.1590,.0038),(1.1691,.0042)]

# ── panel C ──────────────────────────────────────────────────────────────────

C_XTICKS = [2.25, 2.26, 2.27, 2.28, 2.29, 2.30, 2.31, 2.32, 2.33]
C_YTICKS = [0.00, 0.01, 0.02, 0.03, 0.04, 0.05, 0.06, 0.07]
C_MASS = [(2.28475,-.0002),(2.28475,.0281),(2.2852,.0281),(2.28525,.0241),(2.2865,.0230),(2.2885,.0220),(2.29025,.0211),(2.2920,.0196),(2.2931,.0179),(2.2945,.0201),(2.2963,.0221),(2.2975,.0246),(2.2990,.0264),(2.3005,.0286),(2.3014,.0311),(2.3014,.0411),(2.3018,.0411),(2.3018,-.0002)]
C_FRINGE = [(2.2848,.030),(2.2860,.0285),(2.2890,.0265),(2.2915,.024),(2.2930,.0235),(2.2950,.0245),(2.2970,.0275),(2.2985,.0305),(2.3000,.0335),(2.3018,.0375),(2.3018,.015),(2.2848,.015)]
C_LEFT_X = 2.2849
C_LEFT_Y = [.0563,.0533,.0519,.0495,.0483,.0480,.0467,.0450,.0445,.0441,.0434,.0430,.0426,.0422,.0417,.0410,.0404,.0400,.0389,.0385,.0380,.0371,.0366,.0361,.0356,.0347,.0342,.0334,.0329,.0324,.0318,.0312,.0306,.0300,.0294,.0288]
C_RIGHT_X = 2.3016
C_RIGHT_Y = [.0710,.0670,.0596,.0594,.0590,.0580,.0577,.0575,.0570,.0563,.0561,.0553,.0551,.0547,.0543,.0538,.0530,.0527,.0521,.0516,.0513,.0503,.0495,.0490,.0480,.0473,.0468,.0462,.0460,.0454,.0445,.0436,.0431,.0421,.0414]
C_POINTS = [(2.3014,.0588),(2.3004,.0588),(2.3010,.0562),(2.3004,.0541),(2.3003,.0536),(2.3014,.0498),(2.3012,.0496),(2.3003,.0493),(2.2987,.0495),(2.2986,.0491),(2.2971,.0490),(2.3012,.0470),(2.3010,.0466),
    (2.2855,.0450),(2.2862,.0437),(2.2866,.0420),(2.2855,.0408),(2.2882,.0410),(2.2877,.0394),(2.2855,.0389),(2.2875,.0378),(2.2911,.0377),(2.2878,.0369),(2.2888,.0369),(2.2861,.0367),(2.2871,.0367),(2.2903,.0362),(2.2909,.0362),(2.2912,.0362),(2.2856,.0359),(2.2882,.0359),(2.2876,.0356),(2.2861,.0353),(2.2860,.0351),(2.2906,.0351),(2.2878,.0343),(2.2858,.0342),(2.2867,.0342),(2.2864,.0337),(2.2875,.0335),(2.2881,.0333),(2.2885,.0335),(2.2889,.0335),(2.2898,.0333),(2.2864,.0329),(2.2870,.0325),(2.2894,.0328),(2.2884,.0326),(2.2855,.0322),(2.2860,.0321),(2.2886,.0322),(2.2916,.0320),(2.2918,.0317),(2.2884,.0317),(2.2860,.0315),(2.2865,.0315),(2.2856,.0314),(2.2897,.0314),(2.2878,.0312),(2.2887,.0312),(2.2875,.0309),(2.2868,.0307),(2.2897,.0308),(2.2871,.0304),(2.2854,.0303),(2.2864,.0303),(2.2880,.0304),(2.2891,.0305),(2.2906,.0305),(2.2910,.0301),(2.2872,.0300),(2.2891,.0299),(2.2855,.0299),(2.2915,.0297),(2.2863,.0296),(2.2897,.0296),(2.2889,.0296),(2.2859,.0292),(2.2873,.0293),(2.2880,.0292),(2.2917,.0294),(2.2854,.0290),(2.2870,.0288),(2.2909,.0289),(2.2920,.0287),(2.2863,.0289),(2.2858,.0285),(2.2869,.0284),(2.2880,.0286),(2.2885,.0286),(2.2890,.0283),(2.2910,.0282),(2.2932,.0291),(2.2927,.0282),(2.2930,.0284),(2.2934,.0283),(2.2940,.0283),(2.2941,.0287),(2.2874,.0279),(2.2880,.0279),(2.2898,.0279),(2.2921,.0277),(2.2855,.0274),(2.2865,.0276),(2.2893,.0276),(2.2908,.0275),(2.2918,.0273),(2.2860,.0269),(2.2869,.0270),(2.2884,.0272),(2.2900,.0269),(2.2905,.0268),(2.2854,.0263),(2.2875,.0266),(2.2887,.0265),(2.2914,.0263),(2.2895,.0259),(2.2906,.0261),(2.2927,.0262),(2.2934,.0260),(2.2865,.0255),(2.2881,.0257),(2.2901,.0254),(2.2912,.0256),(2.2919,.0254),(2.2930,.0255),(2.2934,.0255),(2.2856,.0251),(2.2874,.0251),(2.2889,.0251),(2.2905,.0247),(2.2925,.0246),(2.2934,.0247),(2.2941,.0244),(2.2919,.0242),(2.2911,.0241),(2.2926,.0240),(2.2935,.0240),(2.2945,.0239),(2.2915,.0232),(2.2901,.0239),(2.2928,.0235),(2.2907,.0229),(2.2921,.0227),(2.2933,.0229),(2.2915,.0224),(2.2939,.0230),(2.2945,.0226),(2.2927,.0221),(2.2925,.0213),(2.2937,.0215),(2.2942,.0225),(2.2905,.0217),(2.2921,.0209),(2.2935,.0202),
    (2.2990,.0452),(2.2993,.0446),(2.3007,.0450),(2.2993,.0437),(2.3006,.0437),(2.3006,.0430),(2.3000,.0425),(2.2994,.0419),(2.2996,.0420),(2.3003,.0415),(2.3000,.0413),(2.3007,.0410),(2.2996,.0406),(2.3002,.0407),(2.2952,.0398),(2.2965,.0395),(2.2986,.0398),(2.3000,.0398),(2.3006,.0397),(2.2981,.0391),(2.3011,.0388),(2.2964,.0384),(2.2985,.0381),(2.2999,.0382),(2.2999,.0378),(2.3010,.0381),(2.2990,.0375),(2.3005,.0371),(2.2952,.0369),(2.2996,.0364),(2.2983,.0362),(2.2990,.0361),(2.3007,.0362),(2.2976,.0359),(2.3003,.0359),(2.2985,.0352),(2.2995,.0352),(2.2967,.0348),(2.2987,.0350),(2.3000,.0347),(2.2973,.0345),(2.2981,.0345),(2.2967,.0341),(2.2981,.0341),(2.2991,.0342),(2.3007,.0341),(2.2947,.0335),(2.2959,.0335),(2.2930,.0331),(2.2980,.0333),(2.3003,.0334),(2.2979,.0329),(2.2995,.0330),(2.2967,.0327),(2.2947,.0324),(2.2963,.0325),(2.2973,.0323),(2.2982,.0325),(2.2992,.0326),(2.2949,.0321),(2.2955,.0322),(2.2978,.0321),(2.2988,.0322),(2.2999,.0322),(2.3009,.0322),(2.2969,.0319),(2.2930,.0317),(2.2989,.0316),(2.2996,.0317),(2.3005,.0315),(2.2976,.0310),(2.2982,.0310),(2.2990,.0311),(2.2950,.0311),(2.2955,.0308),(2.2986,.0304),(2.2996,.0305),(2.3007,.0306),(2.2956,.0301),(2.3000,.0301),(2.2994,.0301),(2.2973,.0299),(2.2966,.0299),(2.2961,.0297),(2.2978,.0297),(2.2983,.0297),(2.3004,.0296),(2.2949,.0293),(2.2957,.0293),(2.2965,.0293),(2.2990,.0291),(2.2999,.0291),(2.2976,.0288),(2.3010,.0289),(2.2951,.0283),(2.2959,.0283),(2.2981,.0282),(2.2988,.0282),(2.2959,.0279),(2.2950,.0276),(2.2964,.0277),(2.2979,.0275),(2.2971,.0273),(2.2966,.0275),(2.2952,.0275),(2.2944,.0271),(2.2946,.0271),(2.2960,.0269),(2.2965,.0269),(2.2975,.0268),(2.2944,.0263),(2.2956,.0261),(2.2961,.0263),(2.2949,.0259),(2.2968,.0261),(2.2941,.0254),(2.2955,.0255),(2.2965,.0251),(2.2950,.0246),(2.2957,.0241),(2.2966,.0233),(2.2951,.0232),(2.2975,.0226),(2.2963,.0239)]


def _px_x(px):
    return (px - BODY - LEFT) / (W - BODY - LEFT - RIGHT)


def _px_y(px):
    return 1 - (px - BODY) / (H - BODY)


def _mass(fig, pts, xa, ya, color=GREY):
    fig.add_trace(go.Scatter(
        x=[p[0] for p in pts] + [pts[0][0]], y=[p[1] for p in pts] + [pts[0][1]],
        mode="lines", fill="toself", fillcolor=color,
        line=dict(color=color, width=2 if color == GREY else 0), xaxis=xa, yaxis=ya, hoverinfo="skip",
    ))


def _points(fig, pts, xa, ya):
    fig.add_trace(go.Scatter(
        x=[p[0] for p in pts], y=[p[1] for p in pts], mode="markers",
        marker=dict(symbol="cross-thin", size=6, color=GREY,
                    line=dict(color=GREY, width=1.5)),
        xaxis=xa, yaxis=ya, hoverinfo="skip",
    ))


def _column(fig, x, y0, y1, xa, ya, width=6):
    fig.add_trace(go.Scatter(
        x=[x, x], y=[y0, y1], mode="lines", line=dict(color=GREY, width=width),
        xaxis=xa, yaxis=ya, hoverinfo="skip",
    ))


fig = go.Figure()

# A
_mass(fig, A_FRINGE, "x", "y", FRINGE)
_mass(fig, A_BASE, "x", "y", FRINGE)
_mass(fig, A_MASS, "x", "y")
for sx, top in A_SPIKES:
    _column(fig, sx, 0, top, "x", "y")
for sx, ys in A_SPIKE_TOPS.items():
    _points(fig, [(sx, v) for v in ys], "x", "y")
_points(fig, A_LOW + A_RISE + A_UPPER + A_FLANK, "x", "y")

# B
for outline in (B_FRINGE_LEFT, B_FRINGE_PEAK, B_FRINGE_RIGHT, B_FRINGE_106, B_FRINGE_109, B_FRINGE_110):
    _mass(fig, outline, "x2", "y2", FRINGE)
for outline in (B_MASS_LEFT, B_MASS_BLOB, B_MASS_PEAK, B_MASS_RIGHT):
    _mass(fig, outline, "x2", "y2")
_points(fig, B_LEFT + B_MIDDLE + B_RIGHT, "x2", "y2")

# C
_mass(fig, C_FRINGE, "x3", "y3", FRINGE)
_mass(fig, C_MASS, "x3", "y3")
_column(fig, C_RIGHT_X, .030, .0435, "x3", "y3", width=4)
_column(fig, C_LEFT_X, .028, .0322, "x3", "y3", width=4)
_points(fig, [(C_LEFT_X, v) for v in C_LEFT_Y], "x3", "y3")
_points(fig, [(C_RIGHT_X, v) for v in C_RIGHT_Y], "x3", "y3")
_points(fig, C_POINTS, "x3", "y3")


def _xaxis(left, right, rng, ticks, size, anchor, standoff):
    return dict(
        domain=[_px_x(left), _px_x(right)], range=rng, tickvals=ticks, tickformat=".2f",
        anchor=anchor, showgrid=False, zeroline=False, showline=True, mirror=True,
        linecolor=INK, linewidth=2, ticks="outside", ticklen=9, tickwidth=2, tickcolor=INK,
        tickfont=dict(size=size, color=INK),
        title=dict(text="interpolated min. wav.", font=dict(size=size, color=INK), standoff=standoff),
    )


def _yaxis(top, bottom, rng, ticks, size, anchor, standoff):
    return dict(
        domain=[_px_y(bottom), _px_y(top)], range=rng, tickvals=ticks, tickformat=".2f",
        anchor=anchor, showgrid=False, zeroline=False, showline=True, mirror=True,
        linecolor=INK, linewidth=2, ticks="outside", ticklen=9, tickwidth=2, tickcolor=INK,
        tickfont=dict(size=size, color=INK),
        title=dict(text="interpolated depth", font=dict(size=size, color=INK), standoff=standoff),
    )


def _stub(x0, x1, y, color):
    # clipped-off title remnants above each frame
    return dict(type="line", xref="paper", yref="paper", x0=_px_x(x0), x1=_px_x(x1),
                y0=_px_y(y), y1=_px_y(y), line=dict(color=color, width=2))


def _panel_label(text, px, py):
    return dict(text=f"(<b>{text}</b>)", xref="paper", yref="paper", x=_px_x(px), y=_px_y(py),
                showarrow=False, xanchor="center", yanchor="middle",
                font=dict(family="Liberation Serif", size=80, color="#111111"))


fig.update_layout(
    width=W - BODY, height=H - BODY, showlegend=False, paper_bgcolor="white", plot_bgcolor="white",
    margin=dict(l=LEFT, r=RIGHT, t=0, b=0), font=dict(family="DejaVu Sans"),
    xaxis=_xaxis(127, 1176, [2.0669, 2.2442], A_XTICKS, 23.5, "y", 10),
    yaxis=_yaxis(85, 1002, [-0.00686, 0.14925], A_YTICKS, 23.5, "x", 10),
    xaxis2=_xaxis(1460, 2528, [0.9029, 1.2044], B_XTICKS, 23.5, "y2", 10),
    yaxis2=_yaxis(71.5, 1007, [-0.0666, 0.1982], B_YTICKS, 23.5, "x2", 10),
    xaxis3=_xaxis(2812, 4001, [2.2487, 2.3377], C_XTICKS, 26.7, "y3", 10),
    yaxis3=_yaxis(19.5, 1062.5, [-0.00353, 0.07459], C_YTICKS, 26.7, "x3", 10),
    shapes=[
        _stub(589, 592, 76, INK), _stub(725, 741, 76, INK),
        _stub(2042, 2059, 64, "#bbbbbb"), _stub(3446, 3464, 11, "#bbbbbb"),
    ],
    annotations=[
        _panel_label("A", 606, 1212), _panel_label("B", 1941, 1212), _panel_label("C", 3325, 1212),
    ],
)

fig.write_html("out.html")
